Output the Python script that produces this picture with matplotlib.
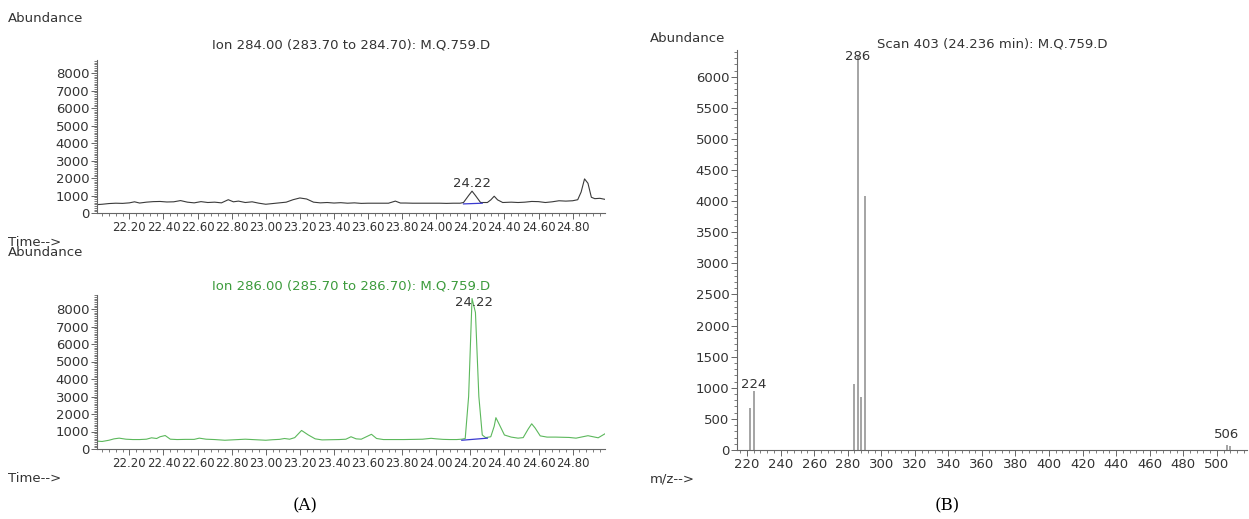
import matplotlib
matplotlib.use("Agg")
from matplotlib import pyplot as plt
from matplotlib.ticker import MultipleLocator, FormatStrFormatter

# ion 284 trace (time, abundance)
t284 = [22.01, 22.04, 22.08, 22.12, 22.16, 22.20, 22.23, 22.26, 22.30, 22.34,
        22.38, 22.42, 22.46, 22.50, 22.54, 22.58, 22.62, 22.66, 22.70, 22.74,
        22.78, 22.81, 22.84, 22.88, 22.92, 22.96, 23.00, 23.04, 23.08, 23.12,
        23.16, 23.20, 23.24, 23.28, 23.32, 23.36, 23.40, 23.44, 23.48, 23.52,
        23.56, 23.60, 23.64, 23.68, 23.72, 23.76, 23.79, 23.82, 23.86, 23.90,
        23.94, 23.98, 24.02, 24.06, 24.10, 24.14, 24.16, 24.19, 24.21, 24.23,
        24.26, 24.30, 24.32, 24.34, 24.36, 24.39, 24.44, 24.48, 24.52, 24.56,
        24.60, 24.64, 24.68, 24.72, 24.76, 24.80, 24.83, 24.85, 24.87, 24.89,
        24.91, 24.93, 24.96, 24.99]
a284 = [480, 500, 540, 560, 550, 580, 640, 570, 620, 650,
        660, 630, 640, 710, 620, 580, 650, 600, 620, 580,
        760, 640, 680, 600, 640, 560, 500, 540, 580, 620,
        760, 860, 800, 620, 580, 600, 570, 590, 560, 580,
        550, 560, 560, 560, 560, 680, 570, 570, 560, 560,
        560, 560, 560, 550, 560, 560, 600, 1000, 1250, 1000,
        600, 600, 750, 960, 750, 600, 620, 600, 620, 660,
        650, 600, 640, 700, 680, 700, 760, 1200, 1950, 1700,
        900, 820, 840, 780]

# ion 286 trace
t286 = [22.01, 22.04, 22.08, 22.11, 22.14, 22.18, 22.22, 22.26, 22.30, 22.33,
        22.36, 22.38, 22.41, 22.44, 22.48, 22.53, 22.58, 22.61, 22.65, 22.70,
        22.76, 22.80, 22.84, 22.88, 22.92, 22.96, 23.00, 23.04, 23.08, 23.11,
        23.14, 23.17, 23.21, 23.25, 23.29, 23.33, 23.38, 23.43, 23.47, 23.50,
        23.53, 23.56, 23.59, 23.62, 23.65, 23.69, 23.75, 23.81, 23.87, 23.92,
        23.97, 24.00, 24.04, 24.08, 24.12, 24.15, 24.17, 24.19, 24.21, 24.23,
        24.25, 24.27, 24.29, 24.32, 24.34, 24.35, 24.37, 24.40, 24.44, 24.48,
        24.51, 24.54, 24.56, 24.58, 24.61, 24.65, 24.70, 24.74, 24.78, 24.82,
        24.86, 24.89, 24.92, 24.95, 24.99]
a286 = [450, 430, 500, 580, 620, 560, 540, 540, 560, 640,
        600, 700, 770, 560, 540, 550, 550, 620, 560, 540,
        500, 520, 540, 560, 540, 520, 500, 530, 550, 600,
        560, 650, 1060, 800, 580, 520, 530, 540, 560, 700,
        580, 560, 700, 840, 600, 540, 540, 540, 550, 560,
        610, 580, 550, 540, 540, 560, 600, 3000, 8600, 7800,
        3000, 800, 650, 700, 1300, 1790, 1400, 800, 680, 620,
        650, 1150, 1440, 1200, 750, 680, 680, 670, 660, 620,
        700, 760, 700, 640, 870]

# integration baselines
base284_t = [24.16, 24.27]
base284_a = [520, 560]
base286_t = [24.15, 24.30]
base286_a = [500, 620]

# mass spectrum, scan 403
mz = [222, 224, 284, 286, 288, 290, 506, 508]
abund = [680, 950, 1060, 6330, 860, 4080, 75, 60]

W, H = 1249, 519
fig = plt.figure(figsize=(W / 100, H / 100), dpi=100)
fs = 9.5
tc = "#333333"
sc = "#666666"


def style(ax):
    for s in ("top", "right"):
        ax.spines[s].set_visible(False)
    for s in ("left", "bottom"):
        ax.spines[s].set_color(sc)
        ax.spines[s].set_linewidth(0.8)
    ax.tick_params(which="major", length=4, width=0.7, color=sc, labelsize=fs,
                   labelcolor=tc, pad=1.5)
    ax.tick_params(which="minor", length=2.5, width=0.6, color=sc)


def chrom_axes(bottom_px, top_px):
    ax = fig.add_axes([97 / W, 1 - bottom_px / H, (605 - 97) / W,
                       (bottom_px - top_px) / H])
    style(ax)
    ax.tick_params(axis="x", labelsize=8.5)
    ax.set_xlim(22.01, 24.99)
    ax.xaxis.set_major_locator(MultipleLocator(0.2))
    ax.xaxis.set_minor_locator(MultipleLocator(0.04))
    ax.xaxis.set_major_formatter(FormatStrFormatter("%.2f"))
    ax.yaxis.set_major_locator(MultipleLocator(1000))
    ax.yaxis.set_minor_locator(MultipleLocator(100))
    return ax


# top chromatogram
ax1 = chrom_axes(213, 60)
ax1.set_ylim(0, 8750)
ax1.plot(t284, a284, color="#3a3a3a", lw=0.8)
ax1.plot(base284_t, base284_a, color="#3a3ad0", lw=0.9)
ax1.annotate("24.22", (24.21, 1250), xytext=(0, 1), textcoords="offset points",
             ha="center", va="bottom", fontsize=fs, color=tc)

# bottom chromatogram
ax2 = chrom_axes(449, 295)
ax2.set_ylim(0, 8800)
ax2.plot(t286, a286, color="#5cb85c", lw=0.8)
ax2.plot(base286_t, base286_a, color="#3a3ad0", lw=0.9)
ax2.text(24.22, 8400, "24.22", ha="center", va="center", fontsize=fs, color=tc)

# spectrum
ax3 = fig.add_axes([737 / W, 1 - 450 / H, (1247 - 737) / W, (450 - 50) / H])
style(ax3)
ax3.set_xlim(214, 518)
ax3.set_ylim(0, 6430)
ax3.xaxis.set_major_locator(MultipleLocator(20))
ax3.xaxis.set_minor_locator(MultipleLocator(4))
ax3.yaxis.set_major_locator(MultipleLocator(500))
ax3.yaxis.set_minor_locator(MultipleLocator(100))
ax3.vlines(mz, 0, abund, color="#8c8c8c", lw=1.1)
ax3.text(286, 6320, "286", ha="center", va="center", fontsize=fs, color=tc)
ax3.annotate("224", (224, 950), xytext=(0, 0), textcoords="offset points",
             ha="center", va="bottom", fontsize=fs, color=tc)
ax3.annotate("506", (506, 75), xytext=(0, 3), textcoords="offset points",
             ha="center", va="bottom", fontsize=fs, color=tc)

# headers and labels
fig.text(351 / W, 1 - 45 / H, "Ion 284.00 (283.70 to 284.70): M.Q.759.D",
         ha="center", va="center", fontsize=fs, color=tc)
fig.text(351 / W, 1 - 286 / H, "Ion 286.00 (285.70 to 286.70): M.Q.759.D",
         ha="center", va="center", fontsize=fs, color="#3c9b3c")
fig.text(992 / W, 1 - 44 / H, "Scan 403 (24.236 min): M.Q.759.D",
         ha="center", va="center", fontsize=fs, color=tc)
for x, y, s in [(8, 18, "Abundance"), (8, 242, "Time-->"), (8, 253, "Abundance"),
                (8, 479, "Time-->"), (650, 38, "Abundance"), (650, 479, "m/z-->")]:
    fig.text(x / W, 1 - y / H, s, ha="left", va="center", fontsize=fs, color=tc)
fig.text(305 / W, 1 - 506 / H, "(A)", ha="center", va="center", fontsize=12,
         family="serif")
fig.text(947 / W, 1 - 506 / H, "(B)", ha="center", va="center", fontsize=12,
         family="serif")

plt.savefig("out.png", dpi=100)
